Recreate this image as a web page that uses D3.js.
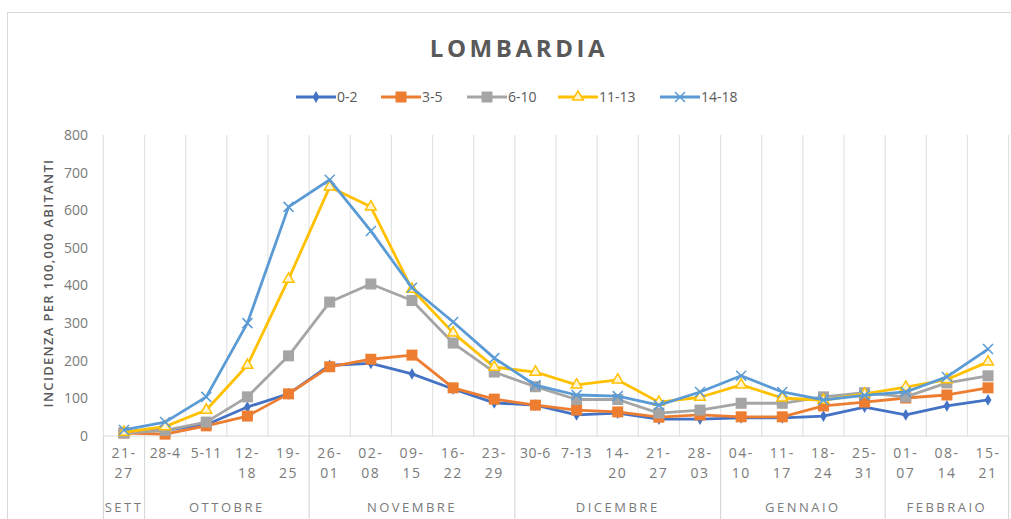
<!DOCTYPE html>
<meta charset="utf-8">
<head>
    <script src="https://d3js.org/d3.v7.min.js"></script>
</head>
<body style="margin:0; background:#fff;">
    <div id="svg_div"></div>
</body>
<style>
    text { font-family: "Open Sans", "DejaVu Sans", sans-serif; }
</style>
<script>

    // week labels (two lines split on "|")
    var weeks = ["21-|27", "28-4", "5-11", "12-|18", "19-|25", "26-|01", "02-|08", "09-|15", "16-|22", "23-|29",
        "30-6", "7-13", "14-|20", "21-|27", "28-|03", "04-|10", "11-|17", "18-|24", "25-|31", "01-|07", "08-|14", "15-|21"];

    // month groups: name, first week index, number of weeks
    var months = ["SETT", "OTTOBRE", "NOVEMBRE", "DICEMBRE", "GENNAIO", "FEBBRAIO"];
    var month_start = [0, 1, 5, 10, 15, 19];
    var month_len = [1, 4, 5, 5, 4, 3];

    var y_ticks = [0, 100, 200, 300, 400, 500, 600, 700, 800];

    var series_names = ["0-2", "3-5", "6-10", "11-13", "14-18"];

    var s_0_2 = [12, 15, 30, 77, 112, 188, 193, 165, 125, 88, 82, 56, 61, 45, 45, 48, 48, 53, 77, 56, 80, 96];
    var s_3_5 = [8, 5, 27, 53, 112, 184, 204, 215, 128, 98, 82, 69, 64, 50, 56, 51, 51, 80, 90, 101, 109, 128];
    var s_6_10 = [8, 15, 37, 104, 213, 356, 404, 360, 247, 170, 131, 97, 97, 61, 69, 87, 87, 104, 115, 104, 141, 160];
    var s_11_13 = [10, 25, 69, 188, 417, 662, 609, 390, 274, 183, 170, 136, 149, 90, 103, 136, 101, 95, 112, 130, 150, 197];
    var s_14_18 = [16, 37, 104, 300, 609, 681, 545, 394, 303, 207, 135, 109, 106, 82, 117, 160, 117, 96, 108, 117, 157, 231];

    var series_values = [s_0_2, s_3_5, s_6_10, s_11_13, s_14_18];
    var series_colors = ["#4472C4", "#ED7D31", "#A5A5A5", "#FFC000", "#5B9BD5"];
    var series_markers = ["diamond", "square", "square", "triangle", "cross"];

    function draw_marker(g, type, color, cx, cy) {
        if (type == "diamond") {
            g.append("path").attr("d", d3.symbol().type(d3.symbolDiamond).size(40)())
                .attr("transform", "translate(" + cx + "," + cy + ")")
                .attr("fill", color);
        } else if (type == "square") {
            g.append("rect").attr("x", cx - 5.5).attr("y", cy - 5.5)
                .attr("width", 11).attr("height", 11).attr("fill", color);
        } else if (type == "triangle") {
            g.append("path").attr("d", d3.symbol().type(d3.symbolTriangle).size(50)())
                .attr("transform", "translate(" + cx + "," + cy + ")")
                .attr("fill", "#fff4cf").attr("stroke", color).attr("stroke-width", 1.5);
        } else {
            g.append("path").attr("d", "M-5,-5L5,5M-5,5L5,-5")
                .attr("transform", "translate(" + cx + "," + cy + ")")
                .attr("stroke", color).attr("stroke-width", 1.5);
        }
    }

    function draw_chart() {
        let width = 1011, height = 519;
        let svg = d3.select("#svg_div").append("svg")
            .attr("width", width)
            .attr("height", height);

        // chart frame
        svg.append("rect")
            .attr("x", 7.5).attr("y", 12.5)
            .attr("width", 1020).attr("height", 530)
            .attr("fill", "#fff").attr("stroke", "#d9d9d9");

        let x = d3.scaleBand().domain(d3.range(weeks.length)).range([103.4, 1008.6]);
        let y = d3.scaleLinear().domain([0, 800]).range([436, 135]);

        // vertical gridlines between weeks
        let bounds = d3.range(weeks.length + 1).map(i => i < weeks.length ? x(i) : x.range()[1]);
        svg.append("g").selectAll("line")
            .data(bounds)
            .enter().append("line")
            .attr("x1", d => d).attr("x2", d => d)
            .attr("y1", y(800)).attr("y2", y(0))
            .attr("stroke", "#e3e3e3").attr("stroke-width", 1.2);

        // x axis base line
        svg.append("line")
            .attr("x1", x.range()[0]).attr("x2", x.range()[1])
            .attr("y1", y(0)).attr("y2", y(0))
            .attr("stroke", "#d9d9d9").attr("stroke-width", 1.2);

        // month separators below axis
        let seps = month_start.map(i => x(i)).concat([x.range()[1]]);
        svg.append("g").selectAll("line")
            .data(seps)
            .enter().append("line")
            .attr("x1", d => d).attr("x2", d => d)
            .attr("y1", y(0)).attr("y2", height)
            .attr("stroke", "#d9d9d9").attr("stroke-width", 1.2);

        // y axis
        let y_axis = svg.append("g")
            .attr("transform", "translate(103,0)")
            .call(d3.axisLeft(y).tickValues(y_ticks).tickSize(0).tickPadding(15));
        y_axis.select(".domain").remove();
        y_axis.selectAll("text")
            .style("font-size", "14px")
            .style("font-family", "'Open Sans', sans-serif")
            .attr("fill", "#7a7a7a");

        // x axis week labels
        let x_axis = svg.append("g")
            .attr("transform", "translate(0," + y(0) + ")")
            .call(d3.axisBottom(x).tickSize(0).tickFormat(""));
        x_axis.select(".domain").remove();
        x_axis.selectAll(".tick").each(function (d) {
            let parts = weeks[d].split("|");
            let t = d3.select(this).append("text")
                .attr("fill", "#7a7a7a")
                .attr("text-anchor", "middle")
                .style("font-size", "14px")
                .style("letter-spacing", parts.length > 1 ? "1.5px" : "0.6px");
            parts.forEach((p, k) => {
                t.append("tspan").attr("x", 0).attr("y", 22 + k * 20).text(p);
            });
        });

        // month labels
        svg.append("g").selectAll("text")
            .data(months)
            .enter().append("text")
            .attr("x", (d, i) => x(month_start[i]) + x.step() * month_len[i] / 2)
            .attr("y", 512)
            .attr("text-anchor", "middle")
            .attr("fill", "#7a7a7a")
            .style("font-size", "13px")
            .style("letter-spacing", "2.5px")
            .text(d => d);

        // y axis title
        svg.append("text")
            .attr("transform", "translate(53,283) rotate(-90)")
            .attr("text-anchor", "middle")
            .attr("fill", "#595959")
            .style("font-size", "13px")
            .style("font-weight", "600")
            .style("letter-spacing", "1.3px")
            .text("INCIDENZA PER 100,000 ABITANTI");

        // title
        svg.append("text")
            .attr("x", 519).attr("y", 57)
            .attr("text-anchor", "middle")
            .attr("fill", "#595959")
            .style("font-size", "24px")
            .style("font-weight", "bold")
            .style("letter-spacing", "3.6px")
            .text("LOMBARDIA");

        // series
        let line = d3.line()
            .x((d, i) => x(i) + x.bandwidth() / 2)
            .y(d => y(d));
        series_values.forEach((vals, s) => {
            let g = svg.append("g");
            g.append("path")
                .datum(vals)
                .attr("d", line)
                .attr("fill", "none")
                .attr("stroke", series_colors[s])
                .attr("stroke-width", 2.8)
                .attr("stroke-linejoin", "round");
            vals.forEach((v, i) => {
                draw_marker(g, series_markers[s], series_colors[s], x(i) + x.bandwidth() / 2, y(v));
            });
        });

        // legend
        let legend_x = [296, 381, 467, 558, 660];
        series_names.forEach((name, s) => {
            let g = svg.append("g").attr("transform", "translate(" + legend_x[s] + ",97)");
            g.append("line")
                .attr("x1", 0).attr("x2", 40)
                .attr("stroke", series_colors[s]).attr("stroke-width", 2.8);
            draw_marker(g, series_markers[s], series_colors[s], 20, 0);
            g.append("text")
                .attr("x", 41).attr("y", 5)
                .attr("fill", "#595959")
                .style("font-size", "14px")
                .text(name);
        });
    }

    draw_chart();

</script>
